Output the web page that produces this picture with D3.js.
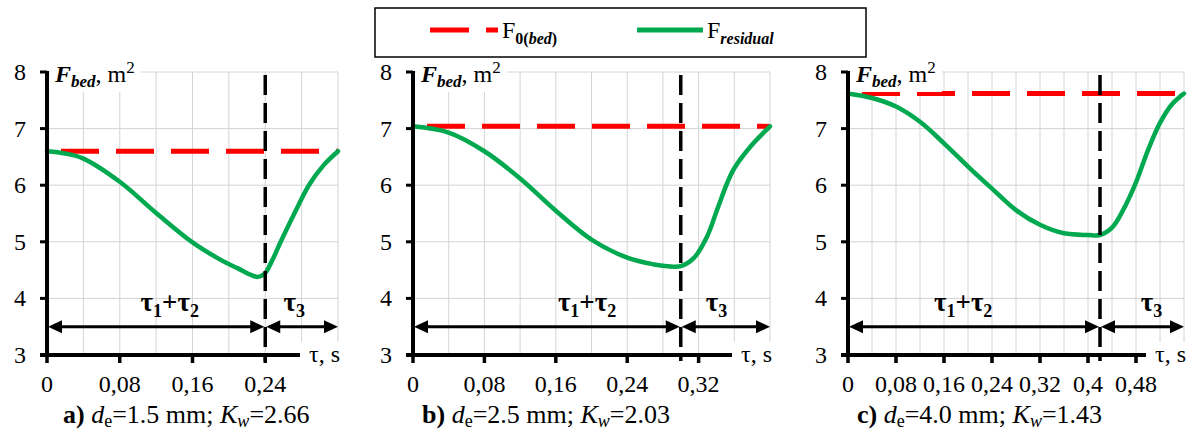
<!DOCTYPE html>
<html>
<head>
<meta charset="utf-8">
<script src="https://cdn.jsdelivr.net/npm/d3@7"></script>
<style>
  html, body { margin: 0; padding: 0; background: #fff; }
  text { font-family: "Liberation Serif", "Times New Roman", serif; }
</style>
</head>
<body>
<svg id="chart" width="1190" height="434"></svg>
<script>
// Residual bed area vs time, three electrode diameters
const tauA = [0, 0.02, 0.04, 0.08, 0.12, 0.16, 0.19, 0.21, 0.231, 0.239, 0.247, 0.257, 0.272, 0.288, 0.304, 0.32];
const fResA = [6.6, 6.56, 6.47, 6.06, 5.51, 4.99, 4.69, 4.53, 4.38, 4.43, 4.65, 5.0, 5.5, 6.0, 6.35, 6.6];

const tauB = [0, 0.04, 0.08, 0.12, 0.16, 0.2, 0.24, 0.27, 0.285, 0.30, 0.3145, 0.3294, 0.3406, 0.3518, 0.36, 0.378, 0.40];
const fResB = [7.04, 6.93, 6.6, 6.12, 5.55, 5.04, 4.72, 4.6, 4.57, 4.57, 4.71, 5.09, 5.56, 6.03, 6.3, 6.68, 7.04];

const tauC = [0, 0.04, 0.08, 0.12, 0.16, 0.2, 0.24, 0.28, 0.32, 0.36, 0.40, 0.42, 0.44, 0.458, 0.48, 0.50, 0.52, 0.54, 0.56];
const fResC = [7.62, 7.54, 7.39, 7.12, 6.74, 6.33, 5.94, 5.56, 5.30, 5.15, 5.12, 5.12, 5.25, 5.55, 6.05, 6.62, 7.1, 7.43, 7.62];

const f0Bed = [6.6, 7.04, 7.62];       // F0(bed) level per panel
const tauSplit = [0.24, 0.30, 0.42];   // end of tau1+tau2
const tauMax = [0.32, 0.40, 0.56];
const xTickValues = [
  [0, 0.08, 0.16, 0.24],
  [0, 0.08, 0.16, 0.24, 0.32],
  [0, 0.08, 0.16, 0.24, 0.32, 0.40, 0.48]
];
const xTickLabels = [
  ["0", "0,08", "0,16", "0,24"],
  ["0", "0,08", "0,16", "0,24", "0,32"],
  ["0", "0,08", "0,16", "0,24", "0,32", "0,4", "0,48"]
];
const yTicks = [3, 4, 5, 6, 7, 8];
const captionLetter = ["a)", "b)", "c)"];
const captionDe = ["1.5", "2.5", "4.0"];
const captionKw = ["2.66", "2.03", "1.43"];

const RED = "#ff0000", GREEN = "#00a94f", GRID = "#d4d4d4";

const svg = d3.select("#chart");

// panel placement (pixels)
const panels = [
  { left: 47, right: 338, labelX: [0.135, 0.272], capX: 63 },
  { left: 413, right: 770, labelX: [0.195, 0.34], capX: 422 },
  { left: 848, right: 1184, labelX: [0.192, 0.506], capX: 857 }
];
const series = [[tauA, fResA], [tauB, fResB], [tauC, fResC]];
const plotTop = 72, plotBottom = 355;

panels.forEach((p, i) => {
  const x = d3.scaleLinear().domain([0, tauMax[i]]).range([p.left, p.right]);
  const y = d3.scaleLinear().domain([3, 8]).range([plotBottom, plotTop]);
  const g = svg.append("g");

  // grid
  const gridX = d3.range(0, tauMax[i] + 1e-9, 0.04);
  g.selectAll("line.gx").data(gridX.slice(1)).enter().append("line")
    .attr("x1", d => x(d)).attr("x2", d => x(d))
    .attr("y1", y(3)).attr("y2", y(8))
    .attr("stroke", GRID).attr("stroke-width", 1);
  g.selectAll("line.gy").data(yTicks.slice(1)).enter().append("line")
    .attr("x1", x(0)).attr("x2", x(tauMax[i]))
    .attr("y1", d => y(d)).attr("y2", d => y(d))
    .attr("stroke", GRID).attr("stroke-width", 1);

  // F0(bed) dashed
  g.append("line")
    .attr("x1", x(0)).attr("x2", x(tauMax[i]))
    .attr("y1", y(f0Bed[i])).attr("y2", y(f0Bed[i]))
    .attr("stroke", RED).attr("stroke-width", 5)
    .attr("stroke-dasharray", "38,17").attr("stroke-dashoffset", -14);

  // residual curve
  const pts = series[i][0].map((t, k) => [t, series[i][1][k]]);
  g.append("path")
    .attr("d", d3.line().x(d => x(d[0])).y(d => y(d[1])).curve(d3.curveCatmullRom.alpha(0.5))(pts))
    .attr("fill", "none").attr("stroke", GREEN).attr("stroke-width", 4.5)
    .attr("stroke-linecap", "round");

  // vertical split line
  g.append("line")
    .attr("x1", x(tauSplit[i])).attr("x2", x(tauSplit[i]))
    .attr("y1", plotTop + 3).attr("y2", plotBottom + 6)
    .attr("stroke", "#000").attr("stroke-width", 3.5)
    .attr("stroke-dasharray", "20,8");

  // axes
  g.append("line").attr("x1", x(0)).attr("x2", x(0))
    .attr("y1", y(3) + 2).attr("y2", y(8) - 1)
    .attr("stroke", "#000").attr("stroke-width", 4);
  g.append("line").attr("x1", x(0) - 7).attr("x2", x(tauMax[i]) - 30)
    .attr("y1", y(3)).attr("y2", y(3))
    .attr("stroke", "#000").attr("stroke-width", 4);
  g.selectAll("line.yt").data(yTicks).enter().append("line")
    .attr("x1", x(0) - 7).attr("x2", x(0))
    .attr("y1", d => y(d)).attr("y2", d => y(d))
    .attr("stroke", "#000").attr("stroke-width", 3);
  g.selectAll("line.xt").data(xTickValues[i]).enter().append("line")
    .attr("x1", d => x(d)).attr("x2", d => x(d))
    .attr("y1", y(3)).attr("y2", y(3) + 8)
    .attr("stroke", "#000").attr("stroke-width", 3.5);

  g.selectAll("text.yl").data(yTicks).enter().append("text")
    .attr("x", x(0) - 21).attr("y", d => y(d) + 8)
    .attr("text-anchor", "end").attr("font-size", 24).text(d => d);
  g.selectAll("text.xl").data(xTickValues[i]).enter().append("text")
    .attr("x", d => x(d)).attr("y", 392)
    .attr("text-anchor", "middle").attr("font-size", 24)
    .text((d, k) => xTickLabels[i][k]);

  // arrows at F = 3.5
  const ay = y(3.5);
  const arrow = (x1, x2) => {
    g.append("line").attr("x1", x1 + 6).attr("x2", x2 - 6)
      .attr("y1", ay).attr("y2", ay).attr("stroke", "#000").attr("stroke-width", 3);
    g.append("path").attr("d", `M${x1},${ay}l14,-6.5v13z`).attr("fill", "#000");
    g.append("path").attr("d", `M${x2},${ay}l-14,-6.5v13z`).attr("fill", "#000");
  };
  arrow(x(0) + 1, x(tauSplit[i]) - 1);
  arrow(x(tauSplit[i]) + 1, x(tauMax[i]));

  // tau labels
  const t12 = g.append("text").attr("x", x(p.labelX[0])).attr("y", 311)
    .attr("text-anchor", "middle").attr("font-size", 27).attr("font-weight", "bold");
  t12.append("tspan").text("τ");
  t12.append("tspan").attr("font-size", 18).attr("dy", 6).text("1");
  t12.append("tspan").attr("dy", -6).text("+τ");
  t12.append("tspan").attr("font-size", 18).attr("dy", 6).text("2");
  const t3 = g.append("text").attr("x", x(p.labelX[1])).attr("y", 311)
    .attr("text-anchor", "middle").attr("font-size", 27).attr("font-weight", "bold");
  t3.append("tspan").text("τ");
  t3.append("tspan").attr("font-size", 18).attr("dy", 6).text("3");

  // axis titles with white backing
  g.append("rect").attr("x", x(0) + 3).attr("y", 58).attr("width", 91).attr("height", 34).attr("fill", "#fff");
  const yl = g.append("text").attr("x", x(0) + 8).attr("y", 82).attr("font-size", 24);
  yl.append("tspan").attr("font-weight", "bold").attr("font-style", "italic").text("F");
  yl.append("tspan").attr("font-weight", "bold").attr("font-style", "italic")
    .attr("font-size", 17).attr("dy", 5).text("bed");
  yl.append("tspan").attr("dy", -5).text(", m");
  yl.append("tspan").attr("font-size", 17).attr("dy", -9).text("2");

  g.append("rect").attr("x", x(tauMax[i]) - 38).attr("y", 342).attr("width", 42).attr("height", 22).attr("fill", "#fff");
  g.append("text").attr("x", x(tauMax[i]) + 2).attr("y", 362)
    .attr("text-anchor", "end").attr("font-size", 24).text("τ, s");

  // caption
  const cap = g.append("text").attr("x", p.capX).attr("y", 423).attr("font-size", 26);
  cap.append("tspan").attr("font-weight", "bold").text(captionLetter[i] + " ");
  cap.append("tspan").attr("font-style", "italic").text("d");
  cap.append("tspan").attr("font-size", 18).attr("dy", 4).text("e");
  cap.append("tspan").attr("dy", -4).text(`=${captionDe[i]} mm; `);
  cap.append("tspan").attr("font-style", "italic").text("K");
  cap.append("tspan").attr("font-style", "italic").attr("font-size", 18).attr("dy", 4).text("w");
  cap.append("tspan").attr("dy", -4).text(`=${captionKw[i]}`);
});

// legend
const lg = svg.append("g");
lg.append("rect").attr("x", 375).attr("y", 8).attr("width", 491).attr("height", 49)
  .attr("fill", "#fff").attr("stroke", "#000").attr("stroke-width", 1.5);
lg.append("line").attr("x1", 430).attr("x2", 498).attr("y1", 30).attr("y2", 30)
  .attr("stroke", RED).attr("stroke-width", 5).attr("stroke-dasharray", "39,17");
const l1 = lg.append("text").attr("x", 502).attr("y", 38).attr("font-size", 24);
l1.append("tspan").text("F");
l1.append("tspan").attr("font-size", 16).attr("font-weight", "bold").attr("dy", 6).text("0(");
l1.append("tspan").attr("font-size", 16).attr("font-weight", "bold").attr("font-style", "italic").text("bed");
l1.append("tspan").attr("font-size", 16).attr("font-weight", "bold").text(")");
lg.append("line").attr("x1", 637).attr("x2", 703).attr("y1", 30).attr("y2", 30)
  .attr("stroke", GREEN).attr("stroke-width", 5);
const l2 = lg.append("text").attr("x", 707).attr("y", 38).attr("font-size", 24);
l2.append("tspan").text("F");
l2.append("tspan").attr("font-size", 16).attr("font-weight", "bold").attr("font-style", "italic")
  .attr("dy", 6).text("residual");
</script>
</body>
</html>
